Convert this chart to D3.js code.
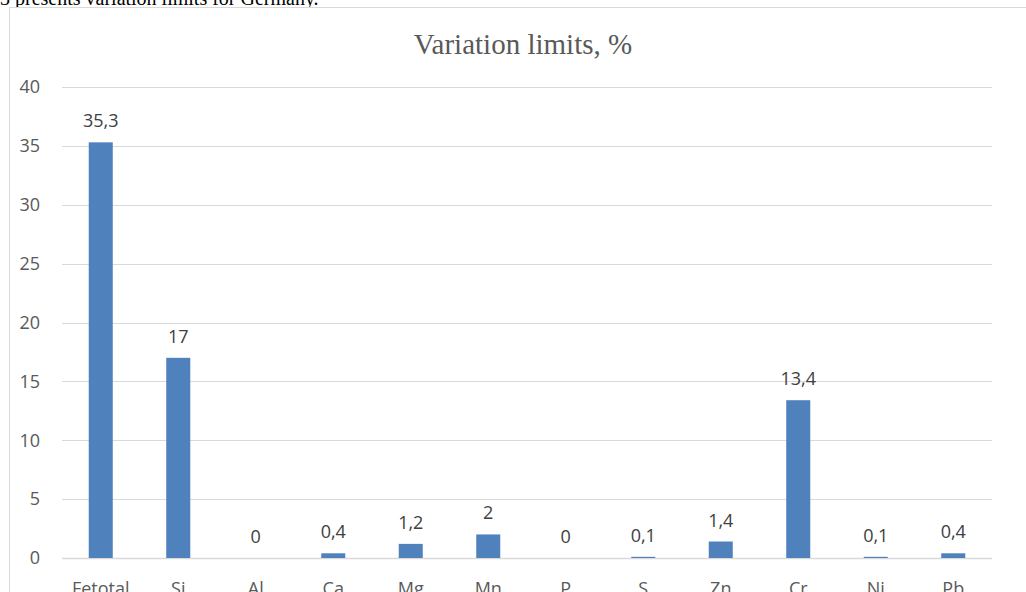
<!DOCTYPE html>
<html><head><meta charset="utf-8">
<script src="https://cdn.jsdelivr.net/npm/d3@7"></script>
<style>html,body{margin:0;padding:0;background:#fff;overflow:hidden}</style>
</head><body>
<script>
const categories = ["Fetotal","Si","Al","Ca","Mg","Mn","P","S","Zn","Cr","Ni","Pb"];
const values = [35.3,17,0,0.4,1.2,2,0,0.1,1.4,13.4,0.1,0.4];
const yTicks = [0,5,10,15,20,25,30,35,40];
const title = "Variation limits, %";
const headerText = "3 presents variation limits for Germany.";

const W = 1026, H = 592;
const svg = d3.select("body").append("svg").attr("width", W).attr("height", H);

// cropped body text above the chart
svg.append("text").attr("x", 0).attr("y", 5)
  .attr("font-family", "'Liberation Serif','Times New Roman',serif")
  .attr("font-size", 20).attr("fill", "#000").text(headerText);

// chart border
svg.append("rect").attr("x", 9.5).attr("y", 7.5).attr("width", 1030).attr("height", 600)
  .attr("fill", "#fff").attr("stroke", "#d9d9d9").attr("stroke-width", 1);

const x = d3.scaleBand().domain(categories).range([62, 992]).paddingInner(0.69).paddingOuter(0.345);
const y = d3.scaleLinear().domain([0, 40]).range([558, 87]);

const font = "'Open Sans','Noto Sans',sans-serif";

// gridlines
svg.append("g").selectAll("line").data(yTicks).join("line")
  .attr("x1", 62).attr("x2", 992)
  .attr("y1", d => Math.round(y(d)) + 0.5).attr("y2", d => Math.round(y(d)) + 0.5)
  .attr("stroke", "#d9d9d9").attr("stroke-width", d => d === 0 ? 1.5 : 1);

// y tick labels
svg.append("g").selectAll("text").data(yTicks).join("text")
  .attr("x", 40).attr("y", d => y(d)).attr("dy", "0.35em")
  .attr("text-anchor", "end").attr("font-family", font).attr("font-size", 18)
  .attr("fill", "#595959").text(d => d);

// bars
svg.append("g").selectAll("rect").data(values).join("rect")
  .attr("x", (d, i) => x(categories[i])).attr("width", x.bandwidth())
  .attr("y", d => y(d)).attr("height", d => y(0) - y(d))
  .attr("fill", "#4f81bd");

// data labels
svg.append("g").selectAll("text").data(values).join("text")
  .attr("x", (d, i) => x(categories[i]) + x.bandwidth() / 2)
  .attr("y", d => y(d) - 15)
  .attr("text-anchor", "middle").attr("font-family", font).attr("font-size", 18)
  .attr("fill", "#404040").text(d => String(d).replace(".", ","));

// x labels
svg.append("g").selectAll("text").data(categories).join("text")
  .attr("x", d => x(d) + x.bandwidth() / 2).attr("y", 595)
  .attr("text-anchor", "middle").attr("font-family", font).attr("font-size", 18)
  .attr("fill", "#595959").text(d => d);

// title
svg.append("text").attr("x", 523).attr("y", 54).attr("text-anchor", "middle")
  .attr("font-family", "'Liberation Serif','Times New Roman',serif")
  .attr("font-size", 29).attr("fill", "#595959").text(title);
</script>
</body></html>
